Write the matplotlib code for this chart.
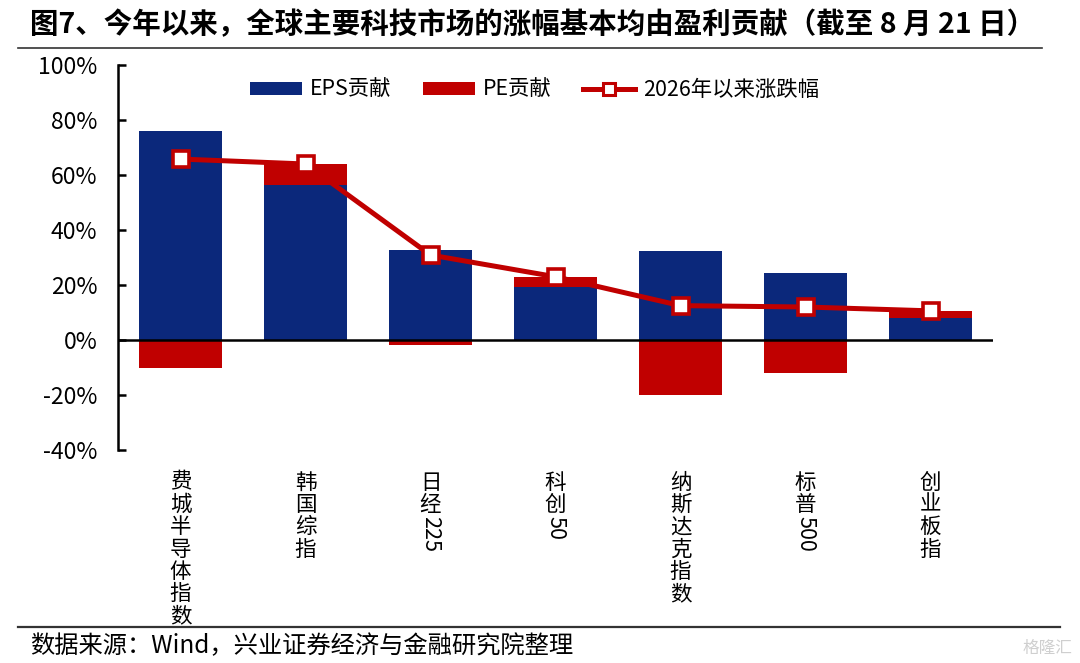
import matplotlib
matplotlib.use("Agg")
import matplotlib.pyplot as plt
from matplotlib.lines import Line2D
from matplotlib.patches import Patch
import numpy as np
import re

plt.rcParams['font.family'] = ['Noto Sans CJK SC', 'DejaVu Sans']

categories = ["费城半导体指数", "韩国综指", "日经225", "科创50", "纳斯达克指数", "标普500", "创业板指"]
eps_contrib = [76.0, 56.4, 32.6, 19.4, 32.4, 24.2, 8.1]
pe_contrib = [-10.2, 7.5, -1.7, 3.4, -20.0, -12.1, 2.4]
ytd_change = [65.8, 64.0, 30.9, 23.0, 12.5, 12.0, 10.6]
y_ticks = [-40, -20, 0, 20, 40, 60, 80, 100]

BLUE = "#0B287B"
RED = "#C00000"

fig = plt.figure(figsize=(10.8, 6.63), dpi=100)
ax = fig.add_axes([118/1080, 1-450/663, (993-118)/1080, (450-65)/663])

x = np.arange(len(categories))
eps = np.array(eps_contrib)
pe = np.array(pe_contrib)
pe_bottom = np.where(pe > 0, eps, 0)

ax.bar(x, eps, width=0.66, color=BLUE, zorder=2)
ax.bar(x, pe, width=0.66, bottom=pe_bottom, color=RED, zorder=2)
ax.plot(x, ytd_change, color=RED, lw=3.6, marker='s', markersize=11,
        markerfacecolor='white', markeredgecolor=RED, markeredgewidth=2.6, zorder=4)
ax.axhline(0, color='black', lw=1.8, zorder=3)

ax.set_xlim(-0.5, len(categories) - 0.5)
ax.set_ylim(-40, 100)
ax.set_yticks(y_ticks)
ax.set_yticklabels([f"{v}%" for v in y_ticks], fontsize=16.5)
ax.tick_params(axis='y', direction='in', length=6, width=1.8, pad=15, color='black')
ax.set_xticks([])
for s in ['top', 'right', 'bottom']:
    ax.spines[s].set_visible(False)
ax.spines['left'].set_linewidth(1.8)

# vertical (stacked) category labels
fs = 15.5
for i, lab in enumerate(categories):
    off = -15.5
    for chunk in re.findall(r'\d+|\D', lab):
        if chunk.isdigit():
            ax.annotate(chunk, xy=(i, 0), xycoords=('data', 'axes fraction'),
                        xytext=(0, off), textcoords='offset points',
                        ha='center', va='top', rotation=-90, fontsize=fs)
            off -= 0.58 * fs * len(chunk)
        else:
            ax.annotate(chunk, xy=(i, 0), xycoords=('data', 'axes fraction'),
                        xytext=(0, off), textcoords='offset points',
                        ha='center', va='top', fontsize=fs)
            off -= 16.1

handles = [Patch(facecolor=BLUE, label="EPS贡献"),
           Patch(facecolor=RED, label="PE贡献"),
           Line2D([], [], color=RED, lw=3.6, marker='s', markersize=8,
                  markerfacecolor='white', markeredgecolor=RED, markeredgewidth=2.2,
                  label="2026年以来涨跌幅")]
ax.legend(handles=handles, loc='center', bbox_to_anchor=(0.476, 0.935), ncol=3,
          frameon=False, fontsize=15.4, handlelength=2.4, handleheight=0.62,
          columnspacing=1.5, handletextpad=0.37)

fig.text(30/1080, 1-25/663, "图7、今年以来，全球主要科技市场的涨幅基本均由盈利贡献（截至 8 月 21 日）",
         fontsize=20.5, fontweight='bold', ha='left', va='center')
fig.add_artist(Line2D([18/1080, 1042/1080], [1-48/663, 1-48/663], color='#333333', lw=1.2))
fig.add_artist(Line2D([18/1080, 1060/1080], [1-627/663, 1-627/663], color='#333333', lw=1.6))
fig.text(30/1080, 1-646/663, "数据来源：Wind，兴业证券经济与金融研究院整理",
         fontsize=17.5, ha='left', va='center')
fig.text(1072/1080, 1-648/663, "格隆汇", fontsize=12, color='#cfcfcf', ha='right', va='center')

fig.savefig("out.png", dpi=100)
